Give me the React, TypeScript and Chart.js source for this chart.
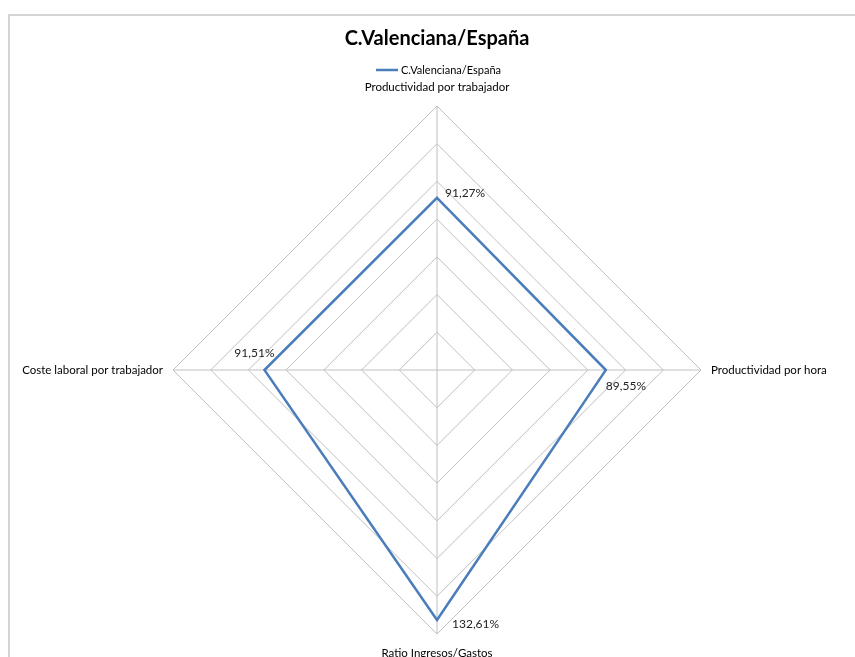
import React, { useEffect, useRef } from "react";
import { Chart, registerables } from "chart.js";

Chart.register(...registerables);

const chartTitle = "C.Valenciana/España";
const categories = [
  "Productividad por trabajador",
  "Productividad por hora",
  "Ratio Ingresos/Gastos",
  "Coste laboral por trabajador",
];
const seriesName = "C.Valenciana/España";
const seriesValues = [91.27, 89.55, 132.61, 91.51];
const valueLabels = ["91,27%", "89,55%", "132,61%", "91,51%"];
const axisMax = 140;
const axisStep = 20;

const FONT = "Lato, 'Open Sans', sans-serif";
const LINE_COLOR = "#4A7EBB";

// label placement styles (offset of text relative to the point)
const valueLabelOffsets = [
  { dx: 8, dy: -5, align: "left" },
  { dx: 0, dy: 16, align: "left" },
  { dx: 15, dy: 4, align: "left" },
  { dx: -10, dy: -17, align: "center" },
];

const textPlugin = {
  id: "customText",
  afterDraw(chart: any) {
    const ctx = chart.ctx;
    const scale = chart.scales.r;
    ctx.save();
    ctx.textBaseline = "middle";
    // title
    ctx.fillStyle = "#000";
    ctx.font = `bold 20px ${FONT}`;
    ctx.textAlign = "center";
    ctx.fillText(chartTitle, 437, 39);
    // legend
    ctx.strokeStyle = LINE_COLOR;
    ctx.lineWidth = 2.5;
    ctx.beginPath();
    ctx.moveTo(376, 70);
    ctx.lineTo(398, 70);
    ctx.stroke();
    ctx.font = `11px ${FONT}`;
    ctx.textAlign = "left";
    ctx.fillText(seriesName, 401, 70);
    // point labels
    ctx.font = `11.5px ${FONT}`;
    const r = scale.drawingArea;
    categories.forEach((label, i) => {
      const p = scale.getPointPosition(i, r);
      let x = p.x;
      let y = p.y;
      if (i === 0) {
        ctx.textAlign = "center";
        y -= 19;
      } else if (i === 1) {
        ctx.textAlign = "left";
        x += 10;
      } else if (i === 2) {
        ctx.textAlign = "center";
        y += 19;
      } else {
        ctx.textAlign = "right";
        x -= 10;
      }
      ctx.fillText(label, x, y);
    });
    // value labels
    ctx.font = `12px ${FONT}`;
    ctx.fillStyle = "#222";
    const meta = chart.getDatasetMeta(0);
    meta.data.forEach((pt: any, i: number) => {
      const o = valueLabelOffsets[i];
      ctx.textAlign = o.align;
      ctx.fillText(valueLabels[i], pt.x + o.dx, pt.y + o.dy);
    });
    ctx.restore();
  },
};

export default function App() {
  const ref = useRef<HTMLCanvasElement | null>(null);
  useEffect(() => {
    if (!ref.current) return;
    const chart = new Chart(ref.current, {
      type: "radar",
      data: {
        labels: categories,
        datasets: [
          {
            label: seriesName,
            data: seriesValues,
            borderColor: LINE_COLOR,
            backgroundColor: "transparent",
            borderWidth: 2.5,
            pointRadius: 0,
            fill: false,
          },
        ],
      },
      options: {
        animation: false,
        responsive: false,
        maintainAspectRatio: false,
        layout: { padding: { left: 173, right: 154, top: 106, bottom: 23 } },
        plugins: {
          legend: { display: false },
          title: { display: false },
          tooltip: { enabled: false },
        },
        scales: {
          r: {
            min: 0,
            max: axisMax,
            ticks: { stepSize: axisStep, display: false },
            pointLabels: { display: false },
            grid: { color: "#C0C0C0", lineWidth: 1 },
            angleLines: { color: "#C0C0C0", lineWidth: 1 },
          },
        },
      },
      plugins: [textPlugin],
    });
    return () => chart.destroy();
  }, []);
  return (
    <div
      style={{
        position: "fixed",
        left: 0,
        top: 0,
        width: 855,
        height: 657,
        background: "#fff",
        overflow: "hidden",
      }}
    >
      <div
        style={{
          position: "absolute",
          left: 8,
          top: 14,
          width: 900,
          height: 700,
          border: "2px solid #D4D4D4",
          boxSizing: "border-box",
        }}
      />
      <canvas
        ref={ref}
        width={855}
        height={657}
        style={{ position: "absolute", left: 0, top: 0 }}
      />
    </div>
  );
}
